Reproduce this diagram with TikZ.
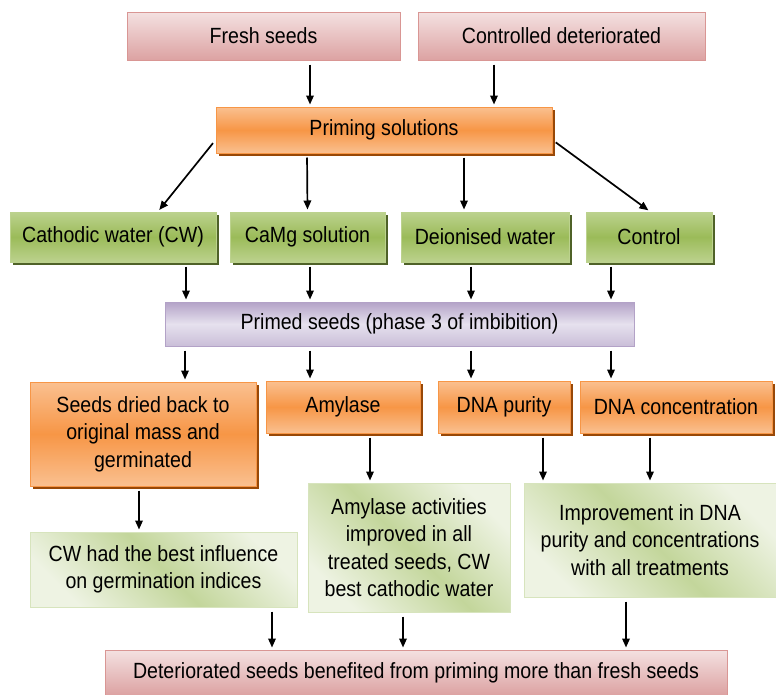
\documentclass[tikz,border=0pt]{standalone}
\usepackage{fontspec}
\setmainfont{Liberation Sans}[FakeStretch=0.89]
\usetikzlibrary{shadows,arrows.meta}
\definecolor{pinkL}{HTML}{F4E1E1}
\definecolor{pinkD}{HTML}{DCA2A2}
\definecolor{pinkB}{HTML}{D99694}
\definecolor{oraL}{HTML}{FAC090}
\definecolor{oraM}{HTML}{F79646}
\definecolor{oraS}{HTML}{984807}
\definecolor{grnL}{HTML}{BCD28E}
\definecolor{grnM}{HTML}{9BBB59}
\definecolor{grnS}{HTML}{4F6228}
\definecolor{purL}{HTML}{E6E1EE}
\definecolor{purD}{HTML}{B3A2C7}
\definecolor{resL}{HTML}{EEF3E3}
\definecolor{resD}{HTML}{C3D69B}
\definecolor{resB}{HTML}{D7E4BD}
\begin{document}
\begin{tikzpicture}[x=1pt,y=-1pt]
	\tikzset{every node/.style={font=\fontsize{22}{27.5}\selectfont,align=center,inner sep=0pt}}
	\tikzset{pinkbox/.style={draw=pinkB,line width=1pt,top color=pinkL,bottom color=pinkD}}
	\tikzset{orabox/.style={draw=oraM,line width=1pt,top color=oraL,bottom color=oraL,middle color=oraM,
		drop shadow={shadow xshift=3pt,shadow yshift=-3pt,fill=oraS,opacity=1}}}
	\tikzset{grnbox/.style={draw=grnL,line width=1pt,top color=grnL,bottom color=grnL,middle color=grnM,
		drop shadow={shadow xshift=3pt,shadow yshift=-3pt,fill=grnS,opacity=1}}}
	\tikzset{purbox/.style={draw=purD,line width=1pt,top color=purD,bottom color=purD!70,middle color=purL}}
	\tikzset{resbox/.style={draw=resB,line width=1pt,left color=resL,right color=resL,middle color=resD,shading angle=135}}
	\tikzset{arr/.style={-{Triangle[length=9pt,width=7.5pt]},line width=1.7pt,shorten <=4pt,shorten >=2pt}}
	\useasboundingbox (0,0) rectangle (776,694);
	% sources
	\node[pinkbox,minimum width=273pt,minimum height=48pt] (fresh) at (263.5,36) {Fresh seeds};
	\node[pinkbox,minimum width=287pt,minimum height=48pt] (ctrldet) at (561.5,36) {Controlled deteriorated};
	\node[orabox,minimum width=336pt,minimum height=46pt] (priming) at (384,130) {Priming solutions};
	% treatments
	\node[grnbox,minimum width=206pt,minimum height=50pt] (cw) at (113,237) {Cathodic water (CW)};
	\node[grnbox,minimum width=155pt,minimum height=50pt] (camg) at (307.5,237) {CaMg solution};
	\node[grnbox,minimum width=168pt,minimum height=50pt] (deion) at (485,237) {Deionised water};
	\node[grnbox,minimum width=126pt,minimum height=50pt] (control) at (649,237) {Control};
	\node[purbox,minimum width=469pt,minimum height=44pt] (primed) at (399.5,324) {Primed seeds (phase 3 of imbibition)};
	% measurements
	\node[orabox,minimum width=226pt,minimum height=104pt] (dried) at (143,434) {Seeds dried back to\\original mass and\\germinated};
	\node[orabox,minimum width=154pt,minimum height=52pt] (amyl) at (343,407) {Amylase};
	\node[orabox,minimum width=132pt,minimum height=52pt] (purity) at (504,407) {DNA purity};
	\node[orabox,minimum width=192pt,minimum height=52pt] (conc) at (676,407) {DNA concentration};
	% results
	\node[resbox,minimum width=267pt,minimum height=75pt] (cwres) at (163.5,569.5) {CW had the best influence\\on germination indices};
	\node[resbox,minimum width=202pt,minimum height=129pt] (amylres) at (409,547.5) {Amylase activities\\improved in all\\treated seeds, CW\\best cathodic water};
	\node[resbox,minimum width=252pt,minimum height=114pt] (dnares) at (650,540) {Improvement in DNA\\purity and concentrations\\with all treatments};
	\node[pinkbox,minimum width=622pt,minimum height=45pt] (final) at (416,672.5) {Deteriorated seeds benefited from priming more than fresh seeds};
	% connectors
	\draw[arr] ([xshift=46.5pt]fresh.south) -- ([xshift=-74pt]priming.north);
	\draw[arr] ([xshift=-67.5pt]ctrldet.south) -- ([xshift=110pt]priming.north);
	\draw[arr] ([yshift=-10pt]priming.west) -- ([xshift=45pt]cw.north);
	\draw[arr] ([xshift=-77pt]priming.south) -- (camg.north);
	\draw[arr] ([xshift=80pt]priming.south) -- ([xshift=-21pt]deion.north);
	\draw[arr] ([yshift=-10pt]priming.east) -- ([xshift=1pt]control.north);
	\draw[arr] ([xshift=73pt]cw.south) -- ([xshift=-213.5pt]primed.north);
	\draw[arr] ([xshift=2.5pt]camg.south) -- ([xshift=-89.5pt]primed.north);
	\draw[arr] ([xshift=-14pt]deion.south) -- ([xshift=71.5pt]primed.north);
	\draw[arr] ([xshift=-38pt]control.south) -- ([xshift=211.5pt]primed.north);
	\draw[arr] ([xshift=-214.5pt]primed.south) -- ([xshift=42pt]dried.north);
	\draw[arr] ([xshift=-89.5pt]primed.south) -- ([xshift=-33pt]amyl.north);
	\draw[arr] ([xshift=71.5pt]primed.south) -- ([xshift=-33pt]purity.north);
	\draw[arr] ([xshift=211.5pt]primed.south) -- ([xshift=-65pt]conc.north);
	\draw[arr] ([xshift=-4pt]dried.south) -- ([xshift=-24.5pt]cwres.north);
	\draw[arr] ([xshift=27pt]amyl.south) -- ([xshift=-39pt]amylres.north);
	\draw[arr] ([xshift=39pt]purity.south) -- ([xshift=-107pt]dnares.north);
	\draw[arr] ([xshift=-26pt]conc.south) -- (dnares.north);
	\draw[arr] ([xshift=108.5pt]cwres.south) -- ([xshift=-144pt]final.north);
	\draw[arr] ([xshift=-6pt]amylres.south) -- ([xshift=-13pt]final.north);
	\draw[arr] ([xshift=-24pt]dnares.south) -- ([xshift=210pt]final.north);
\end{tikzpicture}
\end{document}
